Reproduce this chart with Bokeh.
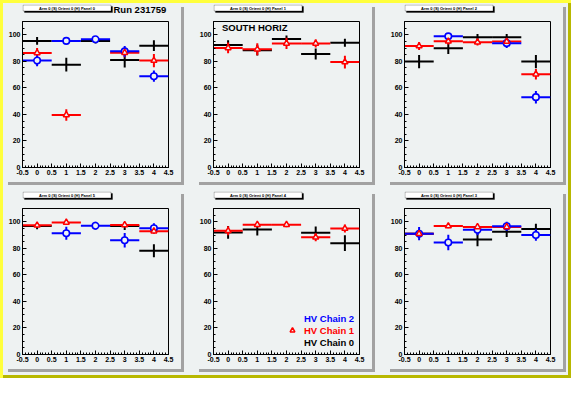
from bokeh.plotting import figure
from bokeh.layouts import row, column
from bokeh.models import (FixedTicker, CustomJSTickFormatter, Label, Legend,
                          LegendItem, ColumnDataSource, BoxAnnotation)
from bokeh.embed import file_html
from bokeh.resources import INLINE

# ---------------- data ----------------
BINS = [0, 1, 2, 3, 4]
BIN_HALF = 0.5

PANEL_TITLES = ["Arm 0 (S) Orient 0 (H) Panel 0", "Arm 0 (S) Orient 0 (H) Panel 1",
                "Arm 0 (S) Orient 0 (H) Panel 2", "Arm 0 (S) Orient 0 (H) Panel 5",
                "Arm 0 (S) Orient 0 (H) Panel 4", "Arm 0 (S) Orient 0 (H) Panel 3"]

# pad 0
P0_CH2 = [80.6, 95.4, 96.6, 87.5, 68.8]
P0_CH2_ERR = [4.4, 1.5, 2.2, 4.0, 4.2]
P0_CH1 = [86.3, 39.6, None, 86.5, 80.6]
P0_CH1_ERR = [3.7, 4.3, None, 3.5, 5.0]
P0_CH0 = [95.4, 77.5, 95.4, 81.0, 91.8]
P0_CH0_ERR = [3.0, 5.2, 2.0, 5.6, 4.0]
# pad 1
P1_CH2 = [None, None, None, None, None]
P1_CH2_ERR = [None, None, None, None, None]
P1_CH1 = [90.1, 89.1, 93.5, 93.5, 79.4]
P1_CH1_ERR = [4.0, 4.5, 4.3, 3.0, 4.8]
P1_CH0 = [92.3, 88.4, 96.9, 85.5, 94.0]
P1_CH0_ERR = [3.5, 4.0, 2.5, 4.2, 3.0]
# pad 2
P2_CH2 = [None, 98.8, None, 93.7, 53.0]
P2_CH2_ERR = [None, 1.5, None, 3.6, 4.7]
P2_CH1 = [91.5, 95.1, 94.4, 94.9, 70.3]
P2_CH1_ERR = [3.0, 2.5, 2.5, 2.5, 4.0]
P2_CH0 = [79.8, 89.8, 98.1, 98.1, 79.8]
P2_CH0_ERR = [5.0, 4.3, 2.5, 2.5, 5.0]
# pad 3
P3_CH2 = [None, 91.4, 97.0, 86.1, 95.1]
P3_CH2_ERR = [None, 4.9, 3.0, 5.5, 3.7]
P3_CH1 = [97.3, 99.5, None, 97.6, 92.9]
P3_CH1_ERR = [1.5, 1.0, None, 1.5, 2.0]
P3_CH0 = [96.8, None, None, 96.8, 78.2]
P3_CH0_ERR = [2.5, None, None, 3.0, 4.9]
# pad 4
P4_CH2 = [None, None, None, None, None]
P4_CH2_ERR = [None, None, None, None, None]
P4_CH1 = [93.2, 97.8, 97.8, 88.3, 94.9]
P4_CH1_ERR = [3.4, 2.0, 2.0, 3.0, 3.0]
P4_CH0 = [92.0, 94.1, None, 91.7, 83.9]
P4_CH0_ERR = [4.8, 4.5, None, 4.7, 6.0]
# pad 5
P5_CH2 = [91.0, 84.4, 93.9, 96.6, 90.0]
P5_CH2_ERR = [5.0, 5.8, 4.0, 3.4, 4.3]
P5_CH1 = [91.0, 96.8, 96.1, 96.1, None]
P5_CH1_ERR = [2.0, 1.7, 2.0, 2.0, None]
P5_CH0 = [91.0, None, 86.6, 92.5, 94.6]
P5_CH0_ERR = [3.0, None, 5.0, 4.0, 4.0]

PADS = [
    (P0_CH2, P0_CH2_ERR, P0_CH1, P0_CH1_ERR, P0_CH0, P0_CH0_ERR),
    (P1_CH2, P1_CH2_ERR, P1_CH1, P1_CH1_ERR, P1_CH0, P1_CH0_ERR),
    (P2_CH2, P2_CH2_ERR, P2_CH1, P2_CH1_ERR, P2_CH0, P2_CH0_ERR),
    (P3_CH2, P3_CH2_ERR, P3_CH1, P3_CH1_ERR, P3_CH0, P3_CH0_ERR),
    (P4_CH2, P4_CH2_ERR, P4_CH1, P4_CH1_ERR, P4_CH0, P4_CH0_ERR),
    (P5_CH2, P5_CH2_ERR, P5_CH1, P5_CH1_ERR, P5_CH0, P5_CH0_ERR),
]

LEGEND_LABELS = ["HV Chain 2", "HV Chain 1", "HV Chain 0"]
RUN_TEXT = "Run 231759"
SIDE_TEXT = "SOUTH HORIZ"

X_TICKS = [-0.5, 0, 0.5, 1, 1.5, 2, 2.5, 3, 3.5, 4, 4.5]
X_MINOR = [round(-0.5 + 0.1 * i, 2) for i in range(51)]
Y_TICKS = [0, 20, 40, 60, 80, 100]
Y_MINOR = [5 * i for i in range(23)]
Y_MAX = 110

# ---------------- style ----------------
BG = "#eef2f2"
FONT = "Liberation Sans"
BLUE = "#0000ff"
RED = "#ff0000"
BLACK = "#000000"
PW, PH = 176, 178
ML, MR, MT, MB = 17, 13, 17, 15
SH = MT - 1            # height of the pad's header strip
FW = PW - ML - MR
FH = PH - MT - MB


def make_source(vals, errs):
    xs, ys, es = [], [], []
    for x, v, e in zip(BINS, vals, errs):
        if v is None:
            continue
        xs.append(x)
        ys.append(v)
        es.append(e)
    return ColumnDataSource(dict(
        x=xs, y=ys,
        x0=[x - BIN_HALF for x in xs], x1=[x + BIN_HALF for x in xs],
        y0=[y - e for y, e in zip(ys, es)], y1=[y + e for y, e in zip(ys, es)]))


def make_header(idx):
    # the header's frame is aligned with the plot frame below it
    h = figure(width=PW, height=SH, x_range=(0, FW), y_range=(0, SH),
               output_backend="svg", toolbar_location=None,
               min_border_left=ML, min_border_right=MR, min_border_top=0,
               min_border_bottom=0, x_axis_type=None, y_axis_type=None,
               outline_line_color=None, background_fill_color=BG,
               border_fill_color=BG)
    h.grid.visible = False
    # title box with its shadow
    h.add_layout(BoxAnnotation(left=2, right=90, bottom=SH - 8, top=SH - 2,
                               fill_color="black", fill_alpha=1,
                               line_color="black", line_width=1))
    h.add_layout(BoxAnnotation(left=0.5, right=88.5, bottom=SH - 6.5,
                               top=SH - 0.5, fill_color="white", fill_alpha=1,
                               line_color="black", line_width=1))
    h.add_layout(Label(x=44.5, y=SH - 3.5, x_units="screen", y_units="screen",
                       text=PANEL_TITLES[idx], text_font=FONT,
                       text_font_size="4px", text_font_style="bold",
                       text_color="black", text_align="center",
                       text_baseline="middle"))
    if idx == 0:
        h.add_layout(Label(x=91, y=SH - 5, x_units="screen", y_units="screen",
                           text=RUN_TEXT, text_font=FONT,
                           text_font_size="9.5px", text_font_style="bold",
                           text_color="black", text_align="left",
                           text_baseline="middle"))
    return h


def make_pad(idx):
    ch2, ch2e, ch1, ch1e, ch0, ch0e = PADS[idx]
    p = figure(width=PW, height=PH - SH, x_range=(X_TICKS[0], X_TICKS[-1]),
               y_range=(0, Y_MAX), output_backend="svg", toolbar_location=None,
               min_border_left=ML, min_border_right=MR, min_border_top=MT - SH,
               min_border_bottom=MB, background_fill_color=BG,
               border_fill_color=BG, outline_line_color="black",
               outline_line_width=1)
    p.grid.visible = False
    xa, ya = p.xaxis[0], p.yaxis[0]
    xa.ticker = FixedTicker(ticks=X_TICKS, minor_ticks=X_MINOR)
    xa.formatter = CustomJSTickFormatter(code="return tick.toString();")
    ya.ticker = FixedTicker(ticks=Y_TICKS, minor_ticks=Y_MINOR)
    for ax in (xa, ya):
        ax.major_tick_in = 4
        ax.major_tick_out = 0
        ax.minor_tick_in = 2
        ax.minor_tick_out = 0
        ax.axis_line_color = "black"
        ax.major_tick_line_color = "black"
        ax.minor_tick_line_color = "black"
        ax.major_label_text_font = FONT
        ax.major_label_text_font_style = "bold"
        ax.major_label_text_font_size = "7px"
        ax.major_label_text_color = "black"
        ax.major_label_standoff = 2

    s2 = make_source(ch2, ch2e)
    s1 = make_source(ch1, ch1e)
    s0 = make_source(ch0, ch0e)
    for s, c in ((s0, BLACK), (s1, RED), (s2, BLUE)):
        p.segment(x0="x0", y0="y", x1="x1", y1="y", source=s, line_color=c,
                  line_width=2)
        p.segment(x0="x", y0="y0", x1="x", y1="y1", source=s, line_color=c,
                  line_width=2)
    r2 = p.scatter("x", "y", source=s2, marker="circle", size=6.5,
                   line_color=BLUE, line_width=1.6, fill_color=BG)
    r1 = p.scatter("x", "y", source=s1, marker="triangle", size=6,
                   line_color=RED, line_width=1.5, fill_color=BG)
    r0 = p.scatter([], [], marker="cross", size=6, line_color=BLACK,
                   line_width=1.5)

    if idx == 1:
        p.add_layout(Label(x=8.5, y=FH - 5.5, x_units="screen",
                           y_units="screen", text=SIDE_TEXT, text_font=FONT,
                           text_font_size="9.5px", text_font_style="bold",
                           text_color="black", text_align="left",
                           text_baseline="middle"))
    if idx == 4:
        for k, (r, c) in enumerate(((r2, BLUE), (r1, RED), (r0, BLACK))):
            leg = Legend(items=[LegendItem(label=LEGEND_LABELS[k], renderers=[r])],
                         location=(73, 30 - 12 * k), padding=0, margin=0,
                         spacing=0, glyph_width=12, glyph_height=12,
                         label_height=12, label_standoff=6,
                         label_text_font=FONT, label_text_font_style="bold",
                         label_text_font_size="9.5px", label_text_color=c,
                         border_line_color=None, background_fill_alpha=0)
            p.add_layout(leg)
    return column(make_header(idx), p, spacing=0,
                  styles={"box-shadow": "3px 3px 0px #a2a2a2"})


pads = [make_pad(i) for i in range(6)]
r1 = row(pads[0], pads[1], pads[2], spacing=15, margin=(4, 8, 0, 5))
r2 = row(pads[3], pads[4], pads[5], spacing=15, margin=(9, 8, 9, 5))
layout = column(r1, r2, spacing=0,
                styles={"background-color": BG,
                        "box-shadow": "inset 3px 3px 0px #ffff3c, inset -3px -3px 0px #b8b800"})

open("out.html", "w").write(file_html(layout, INLINE))
